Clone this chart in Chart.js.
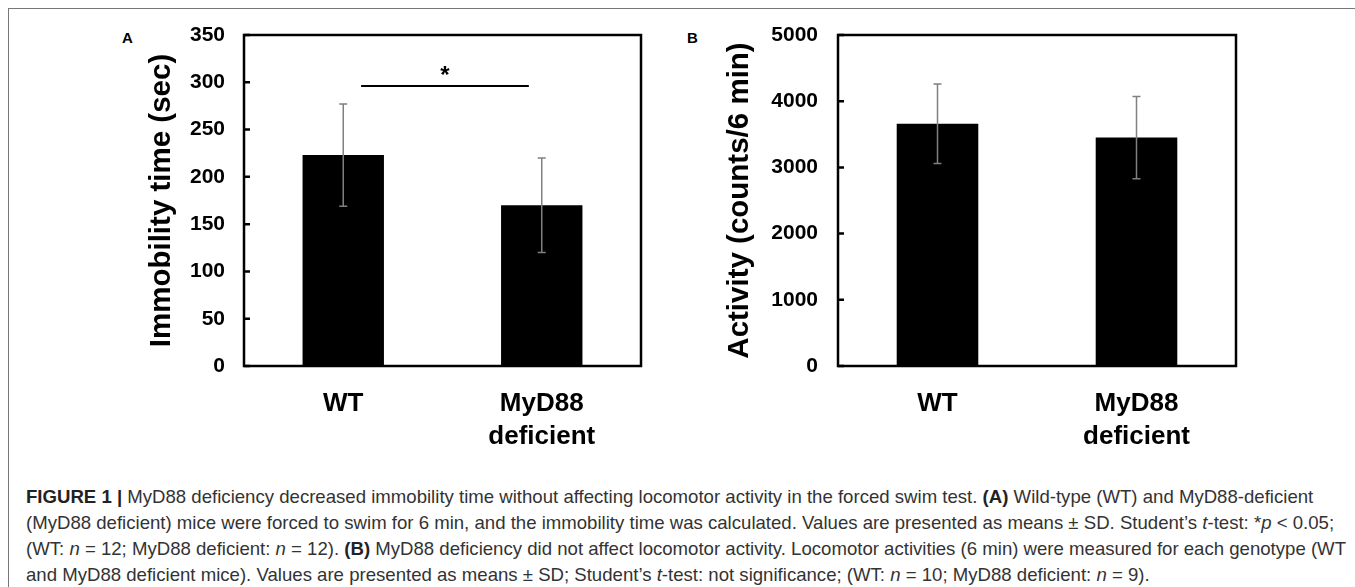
<!DOCTYPE html>
<html>
<head>
<meta charset="utf-8">
<script src="https://cdn.jsdelivr.net/npm/chart.js@4.4.0/dist/chart.umd.min.js"></script>
<style>
  body { margin: 0; background: #fff; width: 1355px; height: 587px; overflow: hidden; position: relative; font-family: "Liberation Sans", Arial, sans-serif; }
  #frame { position: absolute; left: 8px; top: 8px; width: 1400px; height: 700px; border-top: 1px solid #777; border-left: 1px solid #777; }
  canvas { position: absolute; }
  .panel { position: absolute; font-weight: bold; font-size: 15px; color: #000; }
  #caption { position: absolute; left: 26px; top: 484px; font-size: 18.6px; line-height: 26px; color: #333; white-space: nowrap; }
  #caption b { color: #222; }
</style>
</head>
<body>
<div id="frame"></div>
<div class="panel" style="left:122px; top:29px;">A</div>
<div class="panel" style="left:687px; top:29px;">B</div>
<canvas id="chartA" width="550" height="440" style="left:110px; top:20px;"></canvas>
<canvas id="chartB" width="570" height="440" style="left:690px; top:20px;"></canvas>
<div id="caption">
<b>FIGURE 1 |</b> MyD88 deficiency decreased immobility time without affecting locomotor activity in the forced swim test. <b>(A)</b> Wild-type (WT) and MyD88-deficient<br>
(MyD88 deficient) mice were forced to swim for 6 min, and the immobility time was calculated. Values are presented as means ± SD. Student’s <i>t</i>-test: *<i>p</i> &lt; 0.05;<br>
(WT: <i>n</i> = 12; MyD88 deficient: <i>n</i> = 12). <b>(B)</b> MyD88 deficiency did not affect locomotor activity. Locomotor activities (6 min) were measured for each genotype (WT<br>
and MyD88 deficient mice). Values are presented as means ± SD; Student’s <i>t</i>-test: not significance; (WT: <i>n</i> = 10; MyD88 deficient: <i>n</i> = 9).
</div>
<script>
// data
const groups = ['WT', ['MyD88', 'deficient']];

const immobilityMean = [223, 170];
const immobilitySd = [54, 50];
const immobilityTicks = [0, 50, 100, 150, 200, 250, 300, 350];

const activityMean = [3660, 3450];
const activitySd = [600, 620];
const activityTicks = [0, 1000, 2000, 3000, 4000, 5000];

// significance bracket for panel A (category index from/to, value)
const sigBar = { from: 0.09, to: 0.935, value: 296, label: '*' };

const FONT = '"Liberation Sans", Arial, sans-serif';

// mean +/- SD whiskers
const errorBars = {
  id: 'errorBars',
  afterDatasetsDraw(chart, args, opts) {
    const ctx = chart.ctx;
    const y = chart.scales.y;
    const meta = chart.getDatasetMeta(0);
    const means = chart.data.datasets[0].data;
    ctx.save();
    ctx.strokeStyle = '#808080';
    ctx.lineWidth = 1.5;
    meta.data.forEach((bar, i) => {
      const top = y.getPixelForValue(means[i] + opts.sd[i]);
      const bot = y.getPixelForValue(means[i] - opts.sd[i]);
      ctx.beginPath();
      ctx.moveTo(bar.x, top); ctx.lineTo(bar.x, bot);
      ctx.moveTo(bar.x - 4, top); ctx.lineTo(bar.x + 4, top);
      ctx.moveTo(bar.x - 4, bot); ctx.lineTo(bar.x + 4, bot);
      ctx.stroke();
    });
    ctx.restore();
  }
};

// black box round the plot, with inward ticks on y
const plotFrame = {
  id: 'plotFrame',
  afterDraw(chart) {
    const {ctx, chartArea: a} = chart;
    const y = chart.scales.y;
    ctx.save();
    ctx.strokeStyle = '#000';
    ctx.lineWidth = 2.5;
    ctx.strokeRect(a.left, a.top, a.right - a.left, a.bottom - a.top);
    ctx.beginPath();
    y.ticks.forEach((t, i) => {
      const py = y.getPixelForTick(i);
      ctx.moveTo(a.left, py);
      ctx.lineTo(a.left + 6, py);
    });
    ctx.stroke();
    ctx.restore();
  }
};

const sigPlugin = {
  id: 'sig',
  afterDraw(chart, args, opts) {
    if (!opts.bar) return;
    const {ctx} = chart;
    const x = chart.scales.x, y = chart.scales.y;
    const b = opts.bar;
    const py = y.getPixelForValue(b.value);
    ctx.save();
    ctx.strokeStyle = '#000';
    ctx.lineWidth = 2;
    ctx.beginPath();
    ctx.moveTo(x.getPixelForValue(b.from), py);
    ctx.lineTo(x.getPixelForValue(b.to), py);
    ctx.stroke();
    ctx.fillStyle = '#000';
    ctx.font = 'bold 24px ' + FONT;
    ctx.textAlign = 'center';
    ctx.textBaseline = 'alphabetic';
    ctx.fillText(b.label, x.getPixelForValue((b.from + b.to) / 2), py - 3);
    ctx.restore();
  }
};

function makeChart(id, means, sds, ticks, step, title, yWidth, titlePad, tickPad, padRight, bar) {
  return new Chart(document.getElementById(id), {
    type: 'bar',
    data: {
      labels: groups,
      datasets: [{
        data: means,
        backgroundColor: '#000',
        borderWidth: 0,
        barPercentage: 0.41,
        categoryPercentage: 1.0
      }]
    },
    options: {
      responsive: false,
      animation: false,
      layout: { padding: { top: 15, right: padRight, left: 0, bottom: 0 } },
      plugins: {
        legend: { display: false },
        tooltip: { enabled: false },
        errorBars: { sd: sds },
        sig: { bar: bar }
      },
      scales: {
        x: {
          grid: { display: false },
          border: { display: false },
          ticks: {
            color: '#000',
            padding: 14,
            maxRotation: 0,
            font: { family: FONT, size: 26, weight: 'bold', lineHeight: 1.25 }
          },
          afterFit: s => { s.height = 94; }
        },
        y: {
          min: ticks[0],
          max: ticks[ticks.length - 1],
          grid: { display: false, drawTicks: false },
          border: { display: false },
          ticks: {
            stepSize: step,
            color: '#000',
            padding: tickPad,
            callback: v => String(v),
            font: { family: FONT, size: 21, weight: 'bold' }
          },
          title: {
            display: true,
            text: title,
            color: '#000',
            padding: { top: titlePad, bottom: 0 },
            font: { family: FONT, size: 29.5, weight: 'bold' }
          },
          afterFit: s => {
            s.width = yWidth;
            s.paddingTop = 0;
            s.paddingBottom = 0;
          }
        }
      }
    },
    plugins: [errorBars, plotFrame, sigPlugin]
  });
}

makeChart('chartA', immobilityMean, immobilitySd, immobilityTicks, 50,
  'Immobility time (sec)', 134, 34, 19, 19, sigBar);
makeChart('chartB', activityMean, activitySd, activityTicks, 1000,
  'Activity (counts/6 min)', 148, 32, 20, 24, null);
</script>
</body>
</html>
